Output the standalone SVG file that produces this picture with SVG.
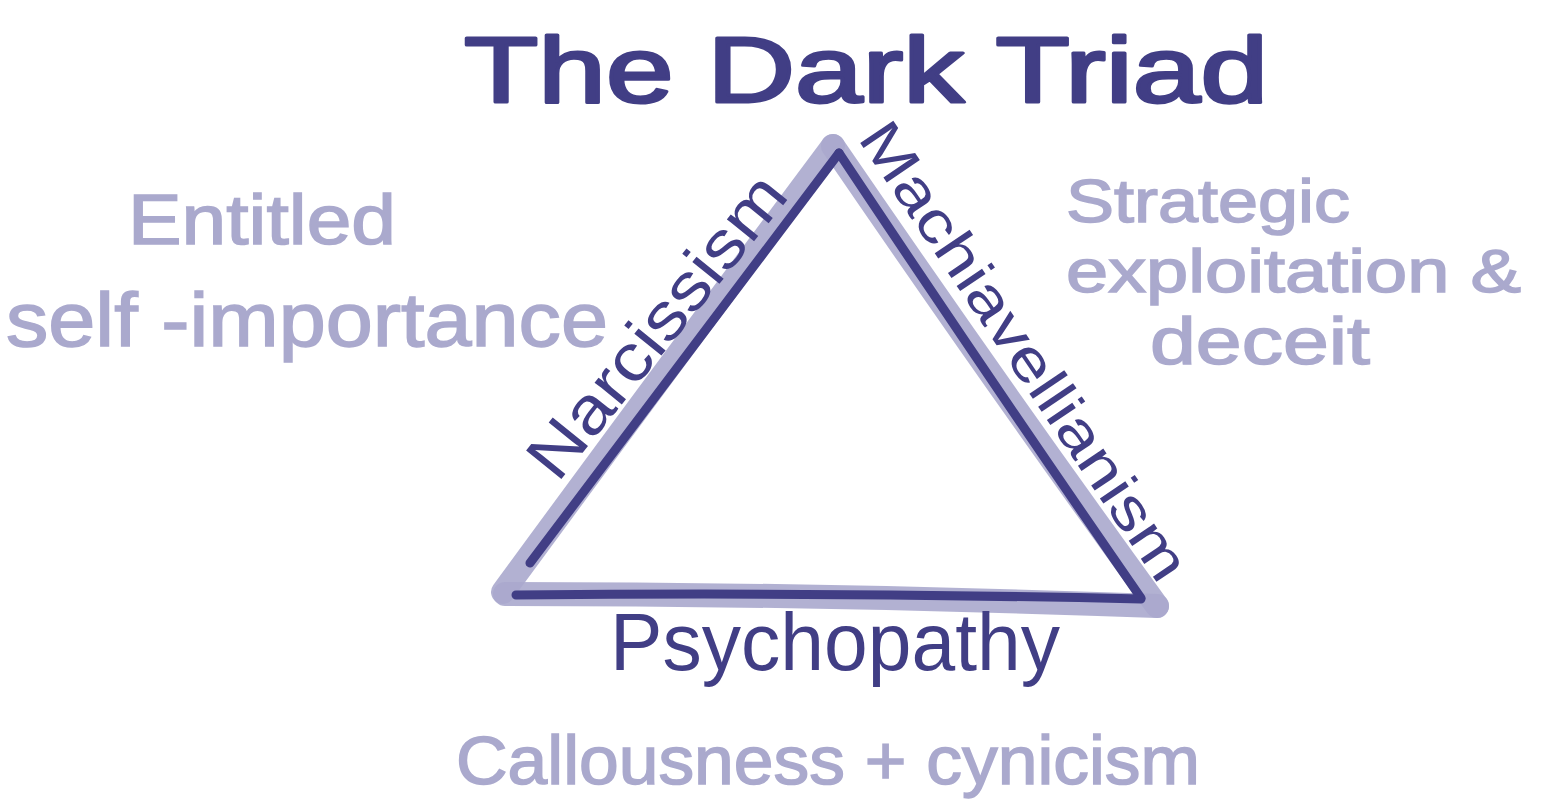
<svg xmlns="http://www.w3.org/2000/svg" width="1545" height="809" viewBox="0 0 1545 809">
<style>
.dark{fill:#413e85;font-family:"Liberation Sans",Arial,sans-serif;}
.title{fill:#413e85;stroke:#413e85;stroke-width:3;stroke-linejoin:round;font-family:"Liberation Sans",Arial,sans-serif;}
.light{fill:#aaa9cd;stroke:#aaa9cd;stroke-width:1.5;font-family:"Liberation Sans",Arial,sans-serif;}
.edge-light{fill:none;stroke:#aaa9cd;stroke-width:24;stroke-linecap:round;stroke-linejoin:round;opacity:0.9}
.edge-dark{fill:none;stroke:#413e85;stroke-width:9;stroke-linecap:round;stroke-linejoin:round}
</style>
<rect width="1545" height="809" fill="#ffffff"/>
<g id="title"><text class="title" x="464" y="102" font-size="92" textLength="804" lengthAdjust="spacingAndGlyphs">The Dark Triad</text></g>
<g id="connectors">
<path class="edge-light" d="M503,592 Q660,378 833,146"/>
<path class="edge-light" d="M833,146 Q1000,390 1157,606"/>
<path class="edge-light" d="M1157,606 Q830,594 505,594"/>
<path class="edge-dark" d="M530,563 Q690,350 839,153"/>
<path class="edge-dark" d="M839,153 Q990,380 1141,598"/>
<path class="edge-dark" d="M1141,599 Q830,592 516,595"/>
</g>
<g id="narcissism">
<text class="dark" font-size="66" text-anchor="middle" transform="translate(674,340) rotate(-51)" textLength="370" lengthAdjust="spacingAndGlyphs">Narcissism</text>
<text class="light" x="128" y="244" font-size="70" textLength="268" lengthAdjust="spacingAndGlyphs">Entitled</text>
<text class="light" x="6" y="346" font-size="76" textLength="602" lengthAdjust="spacingAndGlyphs">self -importance</text>
</g>
<g id="machiavellianism">
<text class="dark" font-size="58" text-anchor="middle" transform="translate(1008,362) rotate(56)" textLength="540" lengthAdjust="spacingAndGlyphs">Machiavellianism</text>
<text class="light" x="1066" y="222" font-size="62" textLength="284" lengthAdjust="spacingAndGlyphs">Strategic</text>
<text class="light" x="1066" y="292" font-size="62" textLength="455" lengthAdjust="spacingAndGlyphs">exploitation &amp;</text>
<text class="light" x="1150" y="364" font-size="66" textLength="220" lengthAdjust="spacingAndGlyphs">deceit</text>
</g>
<g id="psychopathy">
<text class="dark" x="610" y="670" font-size="82" textLength="450" lengthAdjust="spacingAndGlyphs">Psychopathy</text>
<text class="light" x="456" y="784" font-size="68" textLength="744" lengthAdjust="spacingAndGlyphs">Callousness + cynicism</text>
</g>
</svg>
